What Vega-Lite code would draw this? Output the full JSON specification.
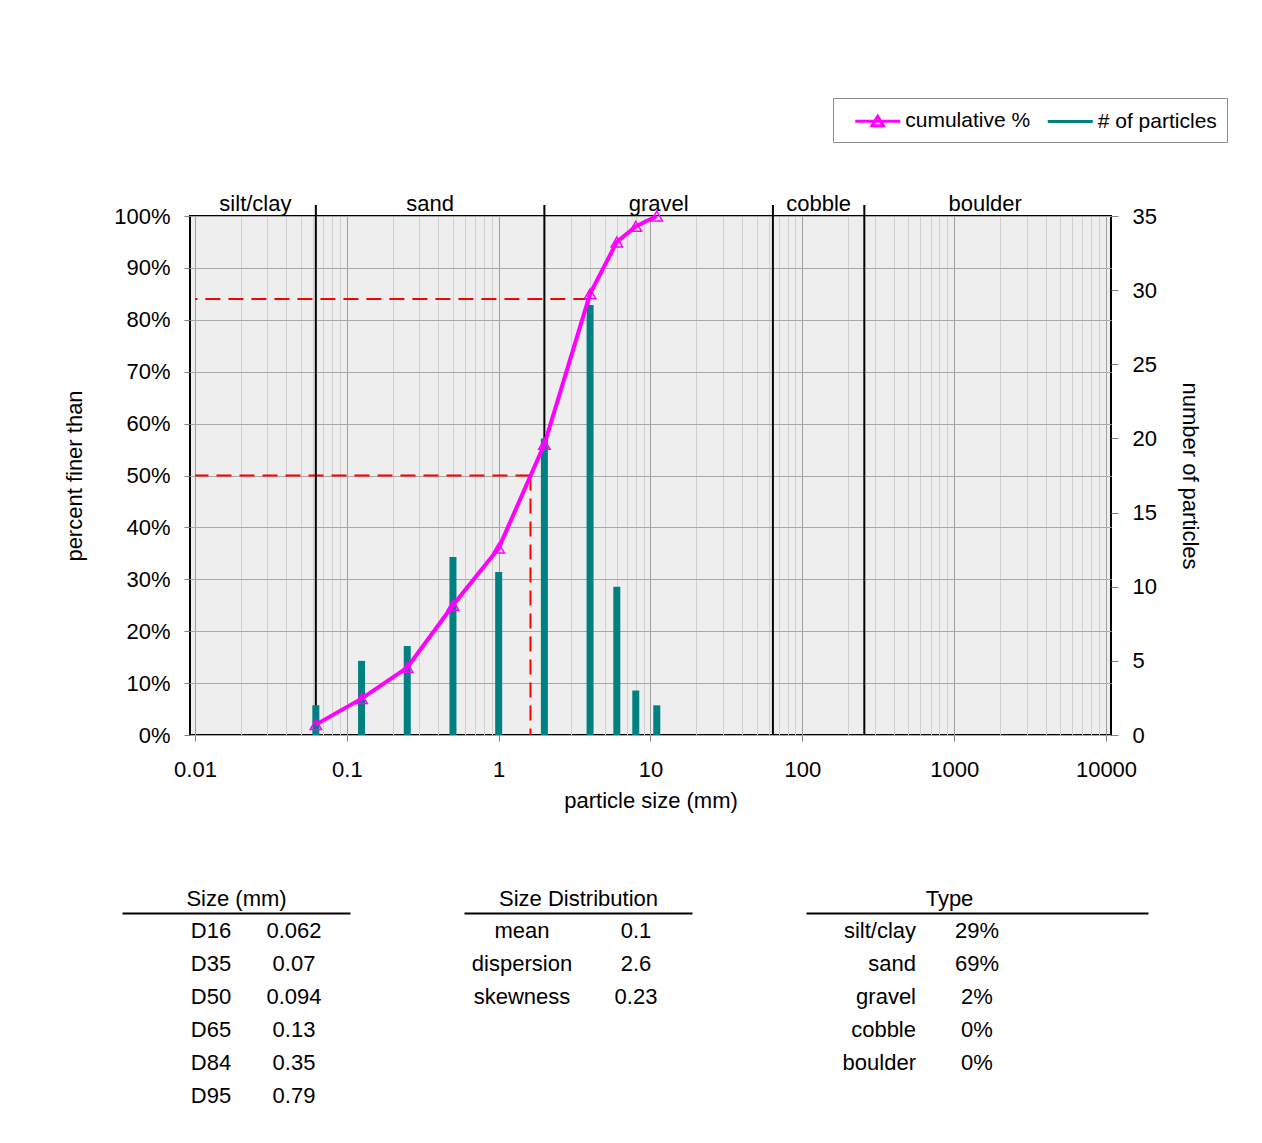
{
  "$schema": "https://vega.github.io/schema/vega-lite/v6.json",
  "padding": {"left": 4, "top": 97, "right": 0, "bottom": 0},
  "background": "white",
  "config": {
    "font": "Liberation Sans",
    "view": {"stroke": null},
    "axis": {"labelFont": "Liberation Sans", "titleFont": "Liberation Sans", "labelColor": "black", "titleColor": "black", "titleFontWeight": "normal"},
    "text": {"font": "Liberation Sans"},
    "legend": {"labelFont": "Liberation Sans"}
  },
  "datasets": {
    "psd": [
      {"size": 0.0625, "count": 2, "cum": 2},
      {"size": 0.125, "count": 5, "cum": 7},
      {"size": 0.25, "count": 6, "cum": 13},
      {"size": 0.5, "count": 12, "cum": 25},
      {"size": 1, "count": 11, "cum": 36},
      {"size": 2, "count": 20, "cum": 56},
      {"size": 4, "count": 29, "cum": 85},
      {"size": 6, "count": 10, "cum": 95},
      {"size": 8, "count": 3, "cum": 98},
      {"size": 11, "count": 2, "cum": 100}
    ],
    "bounds": [{"b": 0.0625}, {"b": 2}, {"b": 64}, {"b": 256}],
    "classes": [
      {"cls": "silt/clay", "mid": 0.025},
      {"cls": "sand", "mid": 0.3536},
      {"cls": "gravel", "mid": 11.31},
      {"cls": "cobble", "mid": 128},
      {"cls": "boulder", "mid": 1600}
    ],
    "dvals": [{"d": 1.62, "p": 50}, {"d": 3.9, "p": 84}],
    "t1": [
      {"row": 1, "label": "D16", "value": "0.062"},
      {"row": 2, "label": "D35", "value": "0.07"},
      {"row": 3, "label": "D50", "value": "0.094"},
      {"row": 4, "label": "D65", "value": "0.13"},
      {"row": 5, "label": "D84", "value": "0.35"},
      {"row": 6, "label": "D95", "value": "0.79"}
    ],
    "t2": [
      {"row": 1, "label": "mean", "value": "0.1"},
      {"row": 2, "label": "dispersion", "value": "2.6"},
      {"row": 3, "label": "skewness", "value": "0.23"}
    ],
    "t3": [
      {"row": 1, "label": "silt/clay", "value": "29%"},
      {"row": 2, "label": "sand", "value": "69%"},
      {"row": 3, "label": "gravel", "value": "2%"},
      {"row": 4, "label": "cobble", "value": "0%"},
      {"row": 5, "label": "boulder", "value": "0%"}
    ]
  },
  "spacing": 75,
  "vconcat": [
    {
      "spacing": 57,
      "hconcat": [
        {"width": 1, "height": 1, "data": {"values": [{"a": 1}]}, "mark": {"type": "text"}, "encoding": {"text": {"value": ""}}},
        {
          "width": 921,
          "height": 519,
          "view": {"fill": "#eeeeee", "stroke": "black", "strokeWidth": 2},
          "layer": [
            {
              "layer": [
                {
                  "data": {"name": "dvals"},
                  "mark": {"type": "rule", "color": "#ff0000", "strokeWidth": 2, "strokeDash": [15, 8]},
                  "encoding": {
                    "x": {
                      "field": "d", "type": "quantitative",
                      "scale": {"type": "log", "domain": [0.01, 10000], "nice": false},
                      "axis": {
                        "title": "particle size (mm)",
                        "values": [0.01,0.02,0.03,0.04,0.05,0.06,0.07,0.08,0.09,0.1,0.2,0.3,0.4,0.5,0.6,0.7,0.8,0.9,1,2,3,4,5,6,7,8,9,10,20,30,40,50,60,70,80,90,100,200,300,400,500,600,700,800,900,1000,2000,3000,4000,5000,6000,7000,8000,9000,10000],
                        "labelExpr": "indexof([0.01,0.1,1,10,100,1000,10000], datum.value) >= 0 ? toString(datum.value) : ''",
                        "labelFontSize": 22,
                        "titleFontSize": 22,
                        "labelPadding": 18,
                        "titlePadding": 10,
                        "tickSize": 6,
                        "tickColor": "#808080",
                        "tickOpacity": {"condition": {"test": "indexof([0.01,0.1,1,10,100,1000,10000], datum.value) >= 0", "value": 1}, "value": 0},
                        "grid": true,
                        "gridColor": {"condition": {"test": "indexof([0.01,0.1,1,10,100,1000,10000], datum.value) >= 0", "value": "#a0a0a0"}, "value": "#d0d0d0"},
                        "domain": false,
                        "labelOverlap": false,
                        "labelFlush": false,
                        "labelBound": false
                      }
                    },
                    "x2": {"datum": 0.01},
                    "y": {
                      "field": "p", "type": "quantitative",
                      "scale": {"domain": [0, 100], "nice": false},
                      "axis": {
                        "title": "percent finer than",
                        "values": [0,10,20,30,40,50,60,70,80,90,100],
                        "labelExpr": "datum.value + '%'",
                        "labelFontSize": 22,
                        "titleFontSize": 22,
                        "tickSize": 6,
                        "tickColor": "#808080",
                        "labelPadding": 14,
                        "titlePadding": 27,
                        "grid": true,
                        "gridColor": "#a8a8a8",
                        "domain": false
                      }
                    }
                  }
                },
                {
                  "data": {"name": "dvals"},
                  "mark": {"type": "rule", "color": "#ff0000", "strokeWidth": 2, "strokeDash": [15, 8]},
                  "encoding": {
                    "x": {"field": "d", "type": "quantitative"},
                    "y": {"field": "p", "type": "quantitative"},
                    "y2": {"datum": 0}
                  }
                },
                {
                  "data": {"name": "bounds"},
                  "mark": {"type": "rule", "color": "black", "strokeWidth": 2, "clip": false},
                  "encoding": {
                    "x": {"field": "b", "type": "quantitative"},
                    "y": {"datum": 102.1, "type": "quantitative"},
                    "y2": {"datum": 0}
                  }
                },
                {
                  "data": {"name": "classes"},
                  "mark": {"type": "text", "fontSize": 22, "baseline": "alphabetic", "dy": -5, "color": "black", "clip": false},
                  "encoding": {
                    "x": {"field": "mid", "type": "quantitative"},
                    "y": {"datum": 100, "type": "quantitative"},
                    "text": {"field": "cls"}
                  }
                }
              ]
            },
            {
              "data": {"name": "psd"},
              "mark": {"type": "bar", "width": 7, "orient": "vertical"},
              "encoding": {
                "x": {"field": "size", "type": "quantitative"},
                "y": {
                  "field": "count", "type": "quantitative",
                  "scale": {"domain": [0, 35], "nice": false},
                  "axis": {
                    "title": "number of particles",
                    "orient": "right",
                    "values": [0,5,10,15,20,25,30,35],
                    "labelFontSize": 22,
                    "titleFontSize": 22,
                    "tickSize": 7,
                    "tickColor": "#808080",
                    "labelPadding": 14,
                    "titlePadding": 21,
                    "grid": false,
                    "domain": false
                  }
                },
                "color": {"datum": "# of particles", "type": "nominal"}
              }
            },
            {
              "layer": [
                {
                  "data": {"name": "psd"},
                  "mark": {"type": "line", "strokeWidth": 4},
                  "encoding": {
                    "x": {"field": "size", "type": "quantitative"},
                    "y": {"field": "cum", "type": "quantitative", "scale": {"domain": [0, 100], "nice": false}, "axis": null},
                    "color": {
                      "datum": "cumulative %", "type": "nominal",
                      "scale": {"domain": ["cumulative %", "# of particles"], "range": ["#ff00ff", "#008080"]},
                      "legend": {
                        "orient": "none",
                        "legendX": 829,
                        "legendY": -118,
                        "direction": "horizontal",
                        "columns": 2,
                        "title": null,
                        "padding": 10,
                        "strokeColor": "#8c8c8c",
                        "fillColor": "white",
                        "symbolSize": 506,
                        "symbolOffset": 21.75,
                        "labelOffset": 14.5,
                        "columnPadding": 4.5,
                        "labelFontSize": 21,
                        "labelColor": "black",
                        "symbolStrokeWidth": 3,
                        "symbolFillColor": "transparent",
                        "encode": {
                          "symbols": {
                            "enter": {
                              "fill": {"value": "transparent"},
                              "fillOpacity": {"value": 0}
                            },
                            "update": {
                              "shape": {"signal": "datum.value === 'cumulative %' ? 'M-2,0H2M-0.5,0.38L0,-0.45L0.5,0.38Z' : 'M-2,0H2'"},
                              "fill": {"value": "transparent"},
                              "fillOpacity": {"value": 0},
                              "stroke": {"signal": "datum.value === 'cumulative %' ? '#ff00ff' : '#008080'"},
                              "strokeWidth": {"value": 3}
                            }
                          }
                        }
                      }
                    }
                  }
                },
                {
                  "data": {"name": "psd"},
                  "mark": {"type": "point", "shape": "triangle-up", "filled": false, "color": "#ff00ff", "strokeWidth": 1.5, "size": 130, "opacity": 1},
                  "encoding": {
                    "x": {"field": "size", "type": "quantitative"},
                    "y": {"field": "cum", "type": "quantitative"}
                  }
                }
              ]
            }
          ],
          "resolve": {"scale": {"y": "independent"}}
        }
      ]
    },
    {
      "spacing": 114,
      "hconcat": [
        {"width": 4, "height": 1, "data": {"values": [{"a": 1}]}, "mark": {"type": "text"}, "encoding": {"text": {"value": ""}}},
        {
          "width": 228, "height": 201,
          "data": {"name": "t1"},
          "layer": [
            {
              "mark": {"type": "text", "fontSize": 22, "align": "center", "baseline": "middle", "color": "black"},
              "encoding": {
                "x": {"datum": "label", "type": "nominal",
                  "scale": {"type": "point", "domain": ["label", "value"], "padding": 0.8735, "align": 0.6138},
                  "axis": {"orient": "top", "title": "Size (mm)", "labels": false, "ticks": false, "grid": false, "domain": true, "domainColor": "black", "domainWidth": 2, "titleFontSize": 22, "titlePadding": 3}},
                "y": {"field": "row", "type": "ordinal", "scale": {"type": "point", "domain": [1,2,3,4,5,6], "padding": 0.545}, "axis": null},
                "text": {"field": "label"}
              }
            },
            {
              "mark": {"type": "text", "fontSize": 22, "align": "center", "baseline": "middle", "color": "black"},
              "encoding": {
                "x": {"datum": "value", "type": "nominal"},
                "y": {"field": "row", "type": "ordinal"},
                "text": {"field": "value"}
              }
            }
          ]
        },
        {
          "width": 228, "height": 201,
          "data": {"name": "t2"},
          "layer": [
            {
              "mark": {"type": "text", "fontSize": 22, "align": "center", "baseline": "middle", "color": "black"},
              "encoding": {
                "x": {"datum": "label", "type": "nominal",
                  "scale": {"type": "point", "domain": ["label", "value"], "padding": 0.5, "align": 0.5088},
                  "axis": {"orient": "top", "title": "Size Distribution", "labels": false, "ticks": false, "grid": false, "domain": true, "domainColor": "black", "domainWidth": 2, "titleFontSize": 22, "titlePadding": 3}},
                "y": {"field": "row", "type": "ordinal", "scale": {"type": "point", "domain": [1,2,3,4,5,6], "padding": 0.545}, "axis": null},
                "text": {"field": "label"}
              }
            },
            {
              "mark": {"type": "text", "fontSize": 22, "align": "center", "baseline": "middle", "color": "black"},
              "encoding": {
                "x": {"datum": "value", "type": "nominal"},
                "y": {"field": "row", "type": "ordinal"},
                "text": {"field": "value"}
              }
            }
          ]
        },
        {
          "width": 342, "height": 201,
          "data": {"name": "t3"},
          "layer": [
            {
              "mark": {"type": "text", "fontSize": 22, "align": "right", "baseline": "middle", "color": "black"},
              "encoding": {
                "x": {"datum": "label", "type": "nominal",
                  "scale": {"type": "point", "domain": ["lead", "label", "value", "trail1", "trail2"], "padding": 0.8033, "align": 0.5},
                  "axis": {"orient": "top", "title": "Type", "titleX": 143, "titleAlign": "center", "labels": false, "ticks": false, "grid": false, "domain": true, "domainColor": "black", "domainWidth": 2, "titleFontSize": 22, "titlePadding": 3}},
                "y": {"field": "row", "type": "ordinal", "scale": {"type": "point", "domain": [1,2,3,4,5,6], "padding": 0.545}, "axis": null},
                "text": {"field": "label"}
              }
            },
            {
              "mark": {"type": "text", "fontSize": 22, "align": "center", "baseline": "middle", "color": "black"},
              "encoding": {
                "x": {"datum": "value", "type": "nominal"},
                "y": {"field": "row", "type": "ordinal"},
                "text": {"field": "value"}
              }
            }
          ]
        }
      ]
    }
  ]
}
